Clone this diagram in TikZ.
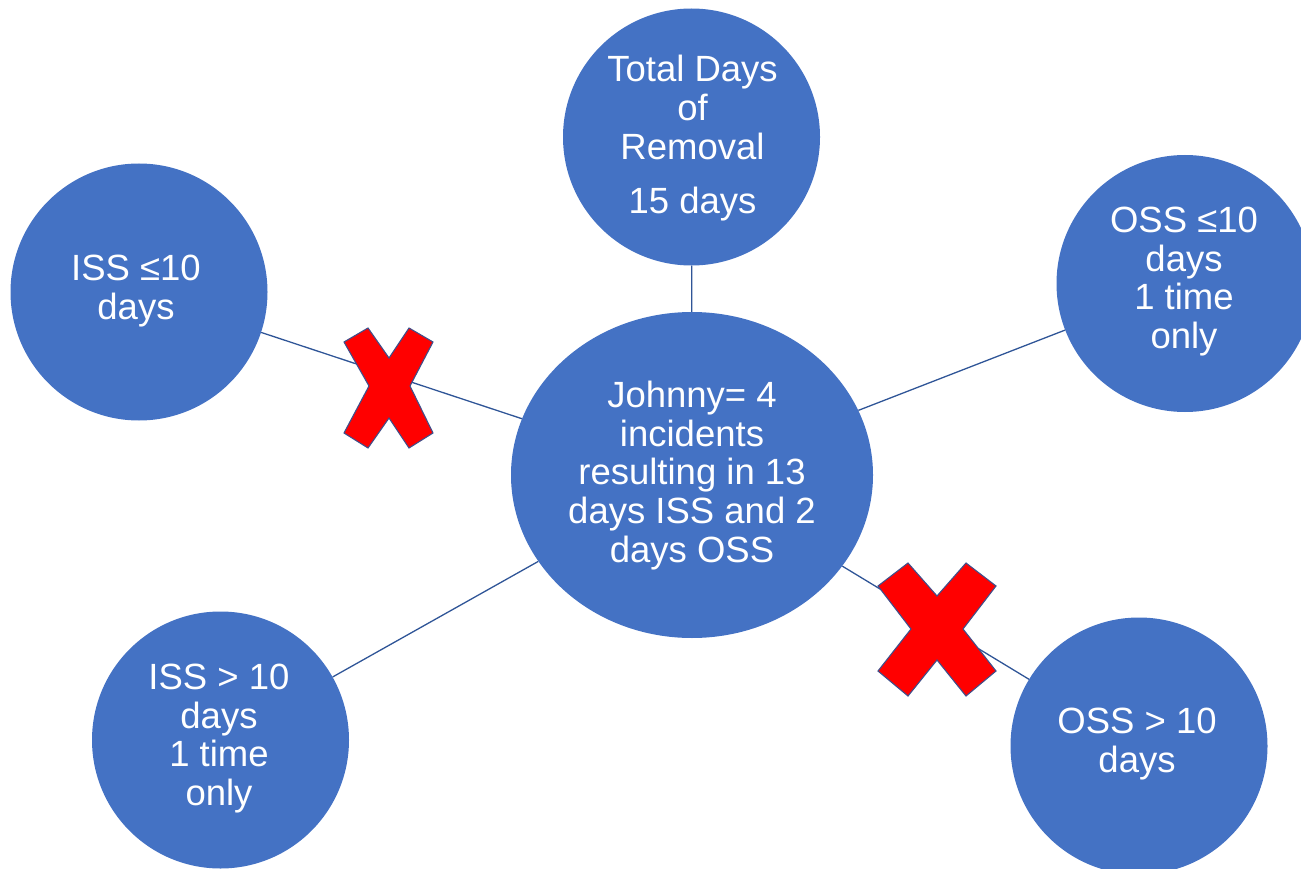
\documentclass[tikz,border=0pt]{standalone}
\usepackage{fontspec}
\setmainfont{Liberation Sans}
\usetikzlibrary{shapes.geometric}
\definecolor{bubblefill}{HTML}{4472C4}
\definecolor{linkcol}{HTML}{2F5597}
\definecolor{crossred}{HTML}{FF0000}
\definecolor{crossedge}{HTML}{404F8A}

\begin{document}
\begin{tikzpicture}[x=1pt,y=-1pt,
  bubble/.style={circle, fill=bubblefill, minimum size=257pt, inner sep=0pt},
  hub/.style={ellipse, fill=bubblefill, minimum width=362pt, minimum height=326pt, inner sep=0pt},
  txt/.style={text=white, font=\fontsize{36.5}{38.8}\selectfont, align=center, anchor=north, inner sep=0pt},
  link/.style={draw=linkcol, line width=1.3pt},
  cross/.style={fill=crossred, draw=crossedge, line width=1.1pt, line join=miter}]

\useasboundingbox (0,0) rectangle (1301,869);

% bubbles
\node[hub] (hub) at (692,475) {};
\node[bubble] (total) at (691.5,137) {};
\node[bubble] (issle) at (139,292) {};
\node[bubble] (ossle) at (1185,283.5) {};
\node[bubble] (issgt) at (220.5,740) {};
\node[bubble] (ossgt) at (1139,746) {};

% connectors
\draw[link] (hub) -- (total);
\draw[link] (hub) -- (issle);
\draw[link] (hub) -- (ossle);
\draw[link] (hub) -- (issgt);
\draw[link] (hub) -- (ossgt);

% texts
\node[txt] (hub-t) at (692,380.6) {Johnny= 4\\incidents\\resulting in 13\\days ISS and 2\\days OSS};
\node[txt] (total-t) at (692.5,55.3) {Total Days\\of\\Removal\\[15pt]15 days};
\node[txt] (issle-t) at (136,254.6) {ISS ≤10\\days};
\node[txt] (ossle-t) at (1184,206.6) {OSS ≤10\\days\\1 time\\only};
\node[txt] (issgt-t) at (219,663.6) {ISS > 10\\days\\1 time\\only};
\node[txt] (ossgt-t) at (1137,707.6) {OSS > 10\\days};

% crosses over the ruled-out links
\draw[cross] (344,342) -- (368,328) -- (389,358) -- (409,328) -- (433,342) -- (410,386)
  -- (433,433) -- (409,448) -- (389,418) -- (368,448) -- (344,433) -- (369,386) -- cycle;
\draw[cross] (878,586) -- (908,563) -- (937,596) -- (966,563) -- (996,586) -- (963,629)
  -- (996,671) -- (966,696) -- (937,660) -- (908,696) -- (878,671) -- (911,629) -- cycle;
\end{tikzpicture}
\end{document}
